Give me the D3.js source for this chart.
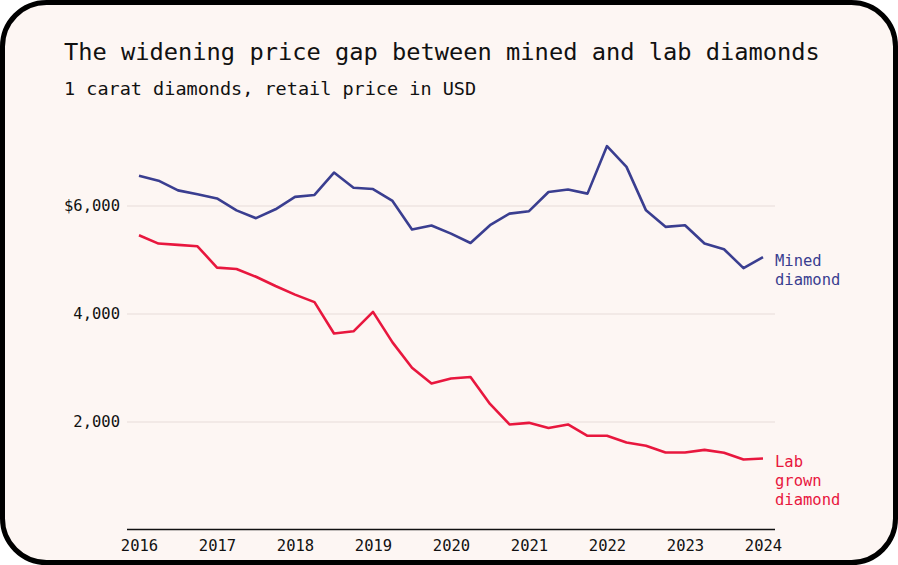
<!DOCTYPE html>
<html>
<head>
<meta charset="utf-8">
<script src="https://cdn.jsdelivr.net/npm/d3@7"></script>
<style>
  body { margin: 0; background: #fff; }
  svg { display: block; font-family: "DejaVu Sans Mono", monospace; }
</style>
</head>
<body>
<div id="chart"></div>
<script>
/* Quarterly retail prices for 1 carat diamonds, 2016 Q1 to 2024 Q1. */
const quarters = d3.range(33).map(i => 2016 + i / 4);
const minedPrice = [
  6550, 6460, 6280, 6210, 6130, 5910, 5765, 5930, 6160, 6195, 6610,
  6330, 6305, 6085, 5555, 5630, 5480, 5305, 5635, 5850, 5895, 6250,
  6295, 6220, 7100, 6715, 5910, 5605, 5635, 5295, 5190, 4840, 5045
];
const labPrice = [
  5450, 5295, 5270, 5245, 4850, 4825, 4680, 4510, 4350, 4210, 3630,
  3670, 4030, 3465, 2995, 2705, 2795, 2825, 2325, 1945, 1975, 1880,
  1945, 1735, 1735, 1610, 1550, 1425, 1425, 1475, 1420, 1295, 1315
];
const yearTicks = [2016, 2017, 2018, 2019, 2020, 2021, 2022, 2023, 2024];
const priceTicks = [2000, 4000, 6000];

const series = [
  { name: ["Mined", "diamond"], values: minedPrice, color: "#3a3e90" },
  { name: ["Lab", "grown", "diamond"], values: labPrice, color: "#e8173e" }
];

/* Global chart parameters. */
const chartParams = {
  width: 898,
  height: 565,
  margin: { top: 130, right: 123, bottom: 35, left: 139 }
};

const svg = d3.select("#chart")
  .append("svg")
  .attr("width", chartParams.width)
  .attr("height", chartParams.height);

/* Card frame with rounded corners. */
svg.append("rect")
  .attr("x", 2.5)
  .attr("y", 2.5)
  .attr("width", chartParams.width - 5)
  .attr("height", chartParams.height - 5)
  .attr("rx", 44)
  .attr("fill", "#fdf6f3")
  .attr("stroke", "#000")
  .attr("stroke-width", 5);

/* Title and subtitle. */
svg.append("text")
  .attr("x", 64)
  .attr("y", 60)
  .attr("font-size", 23.7)
  .attr("fill", "#111")
  .text("The widening price gap between mined and lab diamonds");
svg.append("text")
  .attr("x", 64)
  .attr("y", 95)
  .attr("font-size", 18.5)
  .attr("fill", "#111")
  .text("1 carat diamonds, retail price in USD");

/* Scales. */
const x = d3.scaleLinear()
  .domain([2016, 2024])
  .range([chartParams.margin.left, chartParams.width - chartParams.margin.right - 12]);
const y = d3.scaleLinear()
  .domain([0, 6000])
  .range([529.5, 205.5]);

const plotLeft = 127;
const plotRight = 775;

/* Horizontal gridlines with y labels. */
const yAxis = svg.append("g")
  .attr("class", "y-axis")
  .attr("transform", "translate(" + plotLeft + ",0)")
  .call(d3.axisLeft(y)
    .tickValues(priceTicks)
    .tickSize(-(plotRight - plotLeft))
    .tickPadding(7)
    .tickFormat(d => (d === 6000 ? "$" : "") + d3.format(",")(d)));
yAxis.select(".domain").remove();
yAxis.selectAll(".tick line")
  .attr("stroke", "#e7dcd9")
  .attr("stroke-width", 1.2);
yAxis.selectAll(".tick text")
  .attr("font-family", "DejaVu Sans Mono, monospace")
  .attr("font-size", 15.5)
  .attr("fill", "#111")
  .attr("dy", "0.35em");

/* Baseline and year labels. */
const xAxis = svg.append("g")
  .attr("class", "x-axis")
  .attr("transform", "translate(0," + y(0) + ")")
  .call(d3.axisBottom(x)
    .tickValues(yearTicks)
    .tickSize(0)
    .tickPadding(10)
    .tickFormat(d3.format("d")));
xAxis.select(".domain")
  .attr("d", "M" + plotLeft + ",0H" + plotRight)
  .attr("stroke", "#111")
  .attr("stroke-width", 1.6);
xAxis.selectAll(".tick text")
  .attr("font-family", "DejaVu Sans Mono, monospace")
  .attr("font-size", 15.5)
  .attr("fill", "#111");

/* Price lines. */
const line = d3.line()
  .x((d, i) => x(quarters[i]))
  .y(d => y(d));

svg.selectAll("path.series")
  .data(series)
  .enter()
  .append("path")
  .attr("class", "series")
  .attr("d", d => line(d.values))
  .attr("fill", "none")
  .attr("stroke", d => d.color)
  .attr("stroke-width", 2.6)
  .attr("stroke-linejoin", "round");

/* Direct labels at the end of each line. */
const labelY = [y(minedPrice[32]) + 4, y(labPrice[32]) + 3];
series.forEach((s, k) => {
  const label = svg.append("text")
    .attr("x", plotRight)
    .attr("y", labelY[k])
    .attr("font-size", 15.5)
    .attr("fill", s.color);
  s.name.forEach((word, j) => {
    label.append("tspan")
      .attr("x", plotRight)
      .attr("dy", j === 0 ? "0.35em" : 19)
      .text(word);
  });
});
</script>
</body>
</html>
